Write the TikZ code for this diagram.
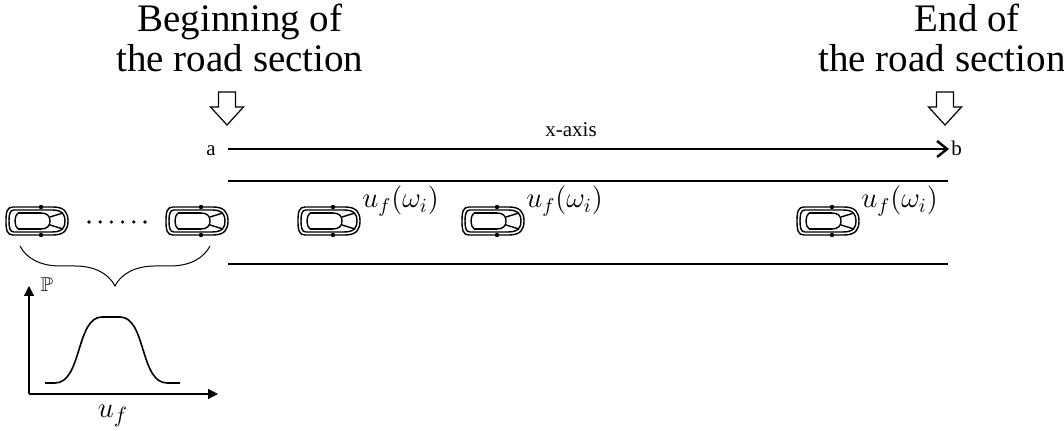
\documentclass[tikz,border=0pt]{standalone}
\usepackage{amsmath,amssymb}
\usepackage{fontspec}
\setmainfont{Liberation Serif}
\usepackage{tikz}
\usetikzlibrary{arrows.meta,positioning,decorations.pathreplacing}

% top view of a small car, nose to the right
\tikzset{
  carline/.style={line width=.7pt,line join=round},
  car/.pic={
    \draw[carline] (-24,-14) -- (16,-14) .. controls (28,-14) and (31,-8) .. (31,0)
      .. controls (31,8) and (28,14) .. (16,14) -- (-24,14)
      .. controls (-30,14) and (-31,9) .. (-31,0) .. controls (-31,-9) and (-30,-14) .. (-24,-14) -- cycle;
    \draw[carline] (-23,-11) -- (15,-11) .. controls (26,-11) and (28,-6) .. (28,0)
      .. controls (28,6) and (26,11) .. (15,11) -- (-23,11)
      .. controls (-27,11) and (-28,7) .. (-28,0) .. controls (-28,-7) and (-27,-11) .. (-23,-11) -- cycle;
    \draw[carline] (-19,-8) -- (4,-8) (-19,8) -- (4,8);
    \draw[carline] (-19,-8) .. controls (-23,-5) and (-23,5) .. (-19,8);
    \draw[carline] (4,-8) .. controls (10,-8) and (13,-5) .. (13,0) .. controls (13,5) and (10,8) .. (4,8);
    \draw[carline] (13,-4) -- (26,-8) (13,4) -- (26,8);
    \fill (4,-14) circle (2.2) (4,14) circle (2.2);
  },
  marker/.pic={
    \draw[line width=.6pt,line join=miter] (-8.5,0) -- (8.5,0) -- (8.5,15) -- (16.5,15)
      -- (0,33) -- (-16.5,15) -- (-8.5,15) -- cycle;
  }
}

\begin{document}
\begin{tikzpicture}[
  x=.5pt,y=-.5pt,
  title/.style={align=center,font=\fontsize{19.5}{20}\selectfont,inner sep=0pt},
  small/.style={font=\fontsize{10.5}{12}\selectfont,text height=.7em,text depth=0pt},
  speed/.style={font=\fontsize{14}{16}\selectfont,inner sep=0pt,anchor=west},
  road/.style={line width=1.4pt},
  xarrow/.style={-{Straight Barb[length=5pt,width=8pt]},line width=1.2pt},
  axis/.style={-{Triangle[length=5pt,width=5pt]},line width=.6pt}
]
\useasboundingbox (0,0) rectangle (1064,431);

% headings and their pointers
\node[title] (begin) at (240,38) {Beginning of\\the road section};
\node[title] (end) at (942,38) {\hspace*{1.3em}End of\\the road section};
\pic at (227,92) {marker};
\pic at (945,92) {marker};

% coordinate axis along the road
\node[small,anchor=east,inner xsep=6pt,inner ysep=1pt] (a) at (228,149) {a};
\node[small,anchor=west,inner xsep=1pt,inner ysep=1pt] (b) at (949,149) {b};
\draw[xarrow] (a) -- (b);
\node[small] (xlabel) at (571,130) {x-axis};

% road edges
\coordinate (topL) at (228,181);
\coordinate (topR) at (948,181);
\coordinate (botL) at (228,264);
\coordinate (botR) at (948,264);
\draw[road] (topL) -- (topR);
\draw[road] (botL) -- (botR);

% queue waiting before the section
\coordinate (carA) at (37,221);
\coordinate (carB) at (197,221);
\pic at (carA) {car};
\pic at (carB) {car};
\foreach \i in {0,...,5}
  \fill (89+11.2*\i,222) circle (1.8);

% vehicles on the road
\coordinate (carC) at (329,221);
\coordinate (carD) at (493,221);
\coordinate (carE) at (828,221);
\foreach \c in {carC,carD,carE} {
  \pic at (\c) {car};
  \node[speed,xshift=16.5pt,yshift=10pt] (\c-u) at (\c) {$u_f(\omega_i)$};
}

% brace under the queue
\coordinate (braceL) at (20,246);
\coordinate (braceR) at (210,246);
\draw[line width=.5pt,decorate,decoration={brace,mirror,amplitude=20pt}] (braceL) -- (braceR);

% speed distribution
\coordinate (origin) at (29,394);
\coordinate (ytip) at (29,286);
\coordinate (xtip) at (218,394);
\draw[axis] (origin) -- (ytip);
\draw[axis] (origin) -- (xtip);
\node[font=\fontsize{10}{12}\selectfont] (prob) at (47,285) {$\mathbb{P}$};
\node[font=\fontsize{15}{17}\selectfont] (ulabel) at (113,416) {$u_f$};
\draw[line width=.8pt] (45,383) -- (55,383) .. controls (82,383) and (76,317) .. (102,317)
  -- (120,317) .. controls (146,317) and (140,383) .. (167,383) -- (180,383);
\end{tikzpicture}
\end{document}
